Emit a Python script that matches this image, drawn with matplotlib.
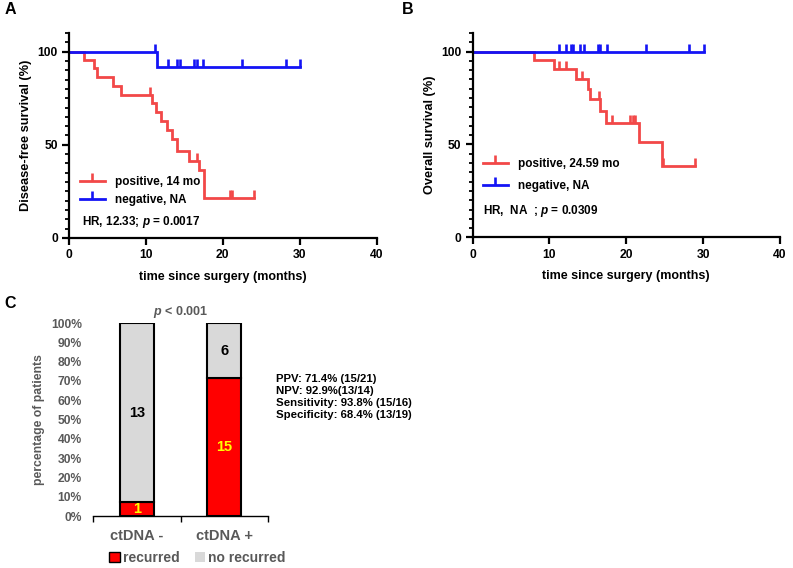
import numpy as np
import matplotlib
matplotlib.use('Agg')
import matplotlib.pyplot as plt
from matplotlib.lines import Line2D
from matplotlib.patches import Patch
from matplotlib.ticker import MultipleLocator, PercentFormatter

plt.rcParams['font.family'] = ['Liberation Sans', 'DejaVu Sans']
plt.rcParams['mathtext.fontset'] = 'custom'
plt.rcParams['mathtext.it'] = 'Liberation Sans:italic:bold'
plt.rcParams['mathtext.rm'] = 'Liberation Sans:bold'

# ---- data ----
# A: disease-free survival
a_pos_t = [0, 1.9, 3.3, 3.6, 5.7, 6.8, 10.8, 11.3, 11.9, 12.8, 13.4, 14.0, 15.6, 16.9, 17.5]
a_pos_s = [100, 95.5, 91.0, 86.2, 81.5, 76.9, 72.4, 67.7, 62.9, 57.9, 52.9, 46.6, 41.5, 36.3, 21.5]
a_pos_end = 24.0
a_pos_cens = [10.5, 16.7, 20.9, 21.2, 24.0]
a_neg_t = [0, 11.5]
a_neg_s = [100, 91.7]
a_neg_end = 30.0
a_neg_cens = [11.2, 12.9, 14.0, 14.4, 16.2, 16.6, 17.4, 22.5, 28.2, 30.0]

# B: overall survival
b_pos_t = [0, 8.0, 10.6, 13.4, 15.0, 15.3, 16.6, 17.3, 21.6, 24.6]
b_pos_s = [100, 95.2, 90.5, 85.2, 79.8, 74.3, 68.0, 61.6, 51.5, 38.5]
b_pos_end = 29.0
b_pos_cens = [11.3, 12.2, 14.2, 16.5, 18.2, 20.5, 20.9, 21.2, 24.8, 29.0]
b_neg_t = [0]
b_neg_s = [100]
b_neg_end = 30.1
b_neg_cens = [11.2, 12.1, 12.8, 13.1, 14.0, 14.5, 16.35, 16.6, 17.5, 22.6, 28.2, 30.1]

# C: recurrence by ctDNA status
groups = ['ctDNA -', 'ctDNA +']
recurred = np.array([1, 15])
no_recurred = np.array([13, 6])
stats_lines = ['PPV: 71.4% (15/21)', 'NPV: 92.9%(13/14)',
               'Sensitivity: 93.8% (15/16)', 'Specificity: 68.4% (13/19)']

RED = '#F24848'
BLUE = '#1414F5'
CENSOR = [(0, 0), (0, 1)]  # upward censor tick


def km(ax, t, s, t_end, cens, color):
    t = np.asarray(t, float)
    s = np.asarray(s, float)
    tt = np.append(t, t_end)
    ss = np.append(s, s[-1])
    ax.step(tt, ss, where='post', color=color, lw=2.0, solid_joinstyle='miter')
    idx = np.searchsorted(t, cens, side='right') - 1
    ax.plot(cens, s[idx], ls='none', marker=CENSOR, ms=11, mew=1.9,
            mec=color, color=color, clip_on=False)


def style_km(ax, ylabel):
    ax.set_xlim(0, 40)
    ax.set_ylim(0, 110)
    ax.set_xticks([0, 10, 20, 30, 40])
    ax.set_yticks([0, 50, 100])
    ax.yaxis.set_minor_locator(MultipleLocator(5))
    for side in ['top', 'right']:
        ax.spines[side].set_visible(False)
    for side in ['left', 'bottom']:
        ax.spines[side].set_linewidth(1.6)
    ax.tick_params(which='major', length=5, width=1.6, labelsize=8.7, pad=3)
    ax.tick_params(which='minor', length=3, width=1.3)
    for lbl in ax.get_xticklabels() + ax.get_yticklabels():
        lbl.set_fontweight('bold')
    ax.set_xlabel('time since surgery (months)', fontsize=9, fontweight='bold', labelpad=7)
    ax.set_ylabel(ylabel, fontsize=9.2, fontweight='bold', labelpad=4)


def km_legend(ax, labels, anchor, spacing):
    handles = [Line2D([], [], color=RED, lw=2.0, marker=CENSOR, ms=11, mew=1.9, mec=RED),
               Line2D([], [], color=BLUE, lw=2.0, marker=CENSOR, ms=11, mew=1.9, mec=BLUE)]
    ax.legend(handles, labels, loc='upper left', bbox_to_anchor=anchor, frameon=False,
              borderpad=0, borderaxespad=0, handlelength=2.1, handletextpad=0.9,
              labelspacing=spacing, numpoints=1, prop={'size': 8.5, 'weight': 'bold'})


fig = plt.figure(figsize=(7.93, 5.68), dpi=100)

# ---- A ----
ax_a = fig.add_axes([0.087, 0.581, 0.388, 0.361])
km(ax_a, a_pos_t, a_pos_s, a_pos_end, a_pos_cens, RED)
km(ax_a, a_neg_t, a_neg_s, a_neg_end, a_neg_cens, BLUE)
style_km(ax_a, 'Disease-free survival (%)')
km_legend(ax_a, ['positive, 14 mo', 'negative, NA'], (0.036, 0.30), 0.45)
ax_a.text(0.042, 0.078, r'HR, 12.33; $\mathit{p}$ = 0.0017', transform=ax_a.transAxes,
          fontsize=8.5, fontweight='bold', va='center')

# ---- B ----
ax_b = fig.add_axes([0.596, 0.582, 0.3875, 0.360])
km(ax_b, b_pos_t, b_pos_s, b_pos_end, b_pos_cens, RED)
km(ax_b, b_neg_t, b_neg_s, b_neg_end, b_neg_cens, BLUE)
style_km(ax_b, 'Overall survival (%)')
km_legend(ax_b, ['positive, 24.59 mo', 'negative, NA'], (0.034, 0.39), 0.85)
ax_b.text(0.034, 0.129, r'HR,  NA  ; $\mathit{p}$ = 0.0309', transform=ax_b.transAxes,
          fontsize=8.5, fontweight='bold', va='center')

# ---- C ----
GRAY_TXT = '#595959'
total = recurred + no_recurred
x = np.arange(len(groups))
ax_c = fig.add_axes([0.1173, 0.0915, 0.2207, 0.3398])
b1 = ax_c.bar(x, recurred / total, width=0.39, color='#FF0000', edgecolor='black', lw=1.5)
b2 = ax_c.bar(x, no_recurred / total, bottom=recurred / total, width=0.39,
              color='#D9D9D9', edgecolor='black', lw=1.5)
ax_c.bar_label(b1, labels=[str(v) for v in recurred], label_type='center',
               color='#FFFF00', fontsize=10.5, fontweight='bold')
ax_c.bar_label(b2, labels=[str(v) for v in no_recurred], label_type='center',
               color='black', fontsize=10.5, fontweight='bold')
ax_c.set_xlim(-0.5, 1.5)
ax_c.set_ylim(0, 1)
ax_c.yaxis.set_major_locator(MultipleLocator(0.1))
ax_c.yaxis.set_major_formatter(PercentFormatter(1.0, decimals=0))
ax_c.set_xticks(x)
ax_c.set_xticklabels(groups)
ax_c.set_xticks([-0.5, 0.5, 1.5], minor=True)
ax_c.tick_params(axis='x', which='major', length=0, pad=9, labelsize=10.5, labelcolor=GRAY_TXT)
ax_c.tick_params(axis='x', which='minor', length=4, width=1)
ax_c.tick_params(axis='y', length=0, pad=8, labelsize=8.7, labelcolor=GRAY_TXT)
for lbl in ax_c.get_xticklabels() + ax_c.get_yticklabels():
    lbl.set_fontweight('bold')
for side in ['top', 'right', 'left']:
    ax_c.spines[side].set_visible(False)
ax_c.spines['bottom'].set_linewidth(1)
ax_c.set_ylabel('percentage of patients', fontsize=8.8, fontweight='bold', color=GRAY_TXT, labelpad=4)
ax_c.set_title(r'$\mathit{p}$ < 0.001', fontsize=9, fontweight='bold', color=GRAY_TXT, pad=6)

fig.legend([Patch(facecolor='#FF0000', edgecolor='black', lw=1),
            Patch(facecolor='#D9D9D9', edgecolor='none')],
           ['recurred', 'no recurred'], loc='center', bbox_to_anchor=(0.249, 0.0176),
           ncol=2, frameon=False, handlelength=0.75, handleheight=0.75, handletextpad=0.2,
           columnspacing=1.1, labelcolor=GRAY_TXT, prop={'size': 10, 'weight': 'bold'})

for i, line in enumerate(stats_lines):
    fig.text(0.348, 1 - (378.5 + i * 12.2) / 568, line, fontsize=8.2, fontweight='bold', va='center')

fig.text(0.006, 0.983, 'A', fontsize=11.5, fontweight='bold', va='center')
fig.text(0.507, 0.983, 'B', fontsize=11.5, fontweight='bold', va='center')
fig.text(0.005, 0.466, 'C', fontsize=11.5, fontweight='bold', va='center')

fig.savefig('out.png', dpi=100)
